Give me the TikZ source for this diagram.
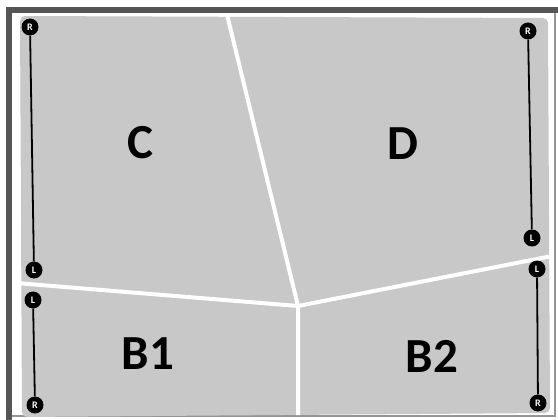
\documentclass[tikz,border=0pt]{standalone}
\usepackage{fontspec}
\setmainfont{Carlito}
\definecolor{panelgray}{RGB}{200,200,200}
\definecolor{framedark}{RGB}{85,85,85}
\definecolor{framelight}{RGB}{150,150,150}
\begin{document}
\begin{tikzpicture}[x=1pt,y=-1pt,
  divider/.style={draw=white,line width=4pt,line join=round},
  pin/.style={circle,fill=black,inner sep=0pt,minimum size=17pt,text=white,font=\bfseries\fontsize{10}{10}\selectfont},
  rod/.style={line width=1.8pt,draw=black},
  lbl/.style={font=\bfseries\fontsize{49}{49}\selectfont,text=black}]
\useasboundingbox (0,0) rectangle (558,420);
\fill[white] (0,0) rectangle (558,420);
% frame
\draw[line width=6pt,draw=framedark] (9,420) -- (9,10) -- (558,10);
\draw[line width=1.5pt,draw=framelight] (555,13) -- (555,416) -- (12,416);
% panel area
\fill[panelgray,rounded corners=5pt] (20,16) -- (548,18) -- (550,413) -- (22,417) -- cycle;
% dividers
\coordinate (J) at (298,306);
\coordinate (T) at (227,14.5);
\coordinate (Lw) at (16,283);
\coordinate (Rw) at (552,256);
\coordinate (Bt) at (298,415);
\draw[divider] (T) -- (J) -- (Lw);
\draw[divider] (Rw) -- (J) -- (Bt);
% pins and rods
\node[pin] (cR) at (30,27) {R};
\node[pin] (cL) at (34,270) {L};
\draw[rod] (cR) -- (cL);
\node[pin] (bLL) at (33,300) {L};
\node[pin] (bLR) at (35,405) {R};
\draw[rod] (bLL) -- (bLR);
\node[pin] (dR) at (528,31) {R};
\node[pin] (dL) at (532,238) {L};
\draw[rod] (dR) -- (dL);
\node[pin] (bRL) at (537,269) {L};
\node[pin] (bRR) at (538,403) {R};
\draw[rod] (bRL) -- (bRR);
% labels
\node[lbl] (labC) at (140,143) {C};
\node[lbl] (labD) at (403,144) {D};
\node[lbl] (labB1) at (148,354) {B1};
\node[lbl] (labB2) at (432,356) {B2};
\end{tikzpicture}
\end{document}
